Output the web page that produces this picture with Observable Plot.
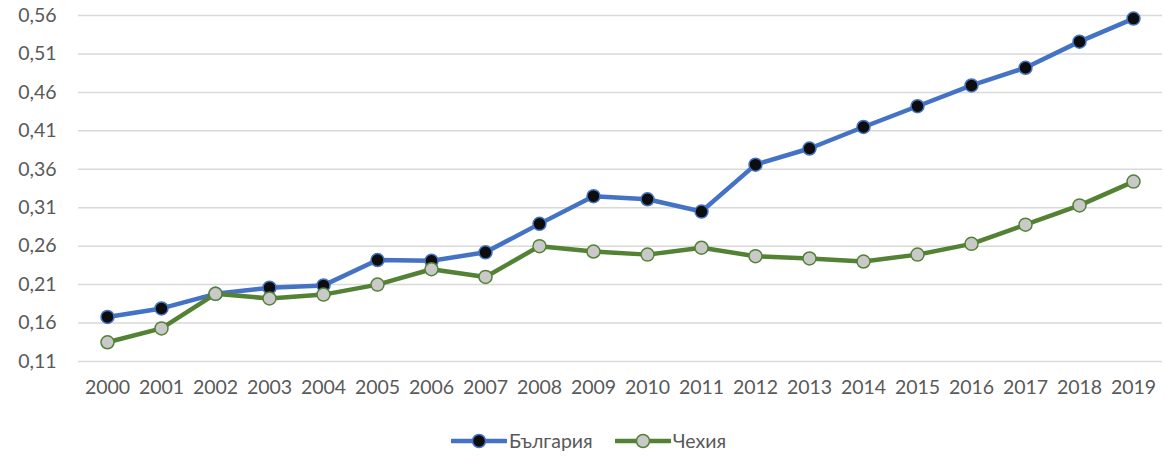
<!DOCTYPE html>
<html>
<head>
<meta charset="utf-8">
<script src="https://cdn.jsdelivr.net/npm/d3@7"></script>
<script src="https://cdn.jsdelivr.net/npm/@observablehq/plot@0.6"></script>
<style>
  html, body { margin: 0; padding: 0; background: #fff; }
  #chart { width: 1165px; font-family: Lato, "Open Sans", sans-serif; }
  .legend { display: flex; justify-content: center; align-items: center; gap: 22px; font-size: 19.5px; color: #595959; margin-top: 24px; padding-left: 12px; }
  .legend span.item { display: flex; align-items: center; gap: 2px; }
</style>
</head>
<body>
<div id="chart"></div>
<script>
const years = ["2000","2001","2002","2003","2004","2005","2006","2007","2008","2009","2010","2011","2012","2013","2014","2015","2016","2017","2018","2019"];
const bulgaria = [0.168,0.179,0.198,0.206,0.209,0.242,0.241,0.252,0.289,0.325,0.321,0.305,0.366,0.387,0.415,0.442,0.469,0.492,0.526,0.556];
const czechia = [0.135,0.153,0.198,0.192,0.197,0.210,0.230,0.220,0.260,0.253,0.249,0.258,0.247,0.244,0.240,0.249,0.263,0.288,0.313,0.344];
const yTicks = [0.11,0.16,0.21,0.26,0.31,0.36,0.41,0.46,0.51,0.56];
const seriesNames = ["България", "Чехия"];
const lineColors = ["#4472C4", "#548235"];
const dotFills = ["#0d0d0d", "#c9c9c9"];

const rows = [];
years.forEach((y, i) => {
  rows.push({year: y, value: bulgaria[i], series: seriesNames[0]});
  rows.push({year: y, value: czechia[i], series: seriesNames[1]});
});

const fmt = d => d.toFixed(2).replace(".", ",");

const plot = Plot.plot({
  width: 1165,
  height: 405,
  marginTop: 15,
  marginBottom: 44,
  marginLeft: 78,
  marginRight: 3,
  style: {fontFamily: "Lato, 'Open Sans', sans-serif", fontSize: "19.5px", color: "#595959", background: "#fff"},
  x: {type: "point", domain: years, padding: 0.5, label: null},
  y: {domain: [0.11, 0.56], label: null},
  color: {domain: seriesNames, range: lineColors},
  marks: [
    Plot.gridY(yTicks, {stroke: "#d9d9d9", strokeOpacity: 1, strokeWidth: 1.5}),
    Plot.axisY(yTicks, {tickSize: 0, tickPadding: 22, tickFormat: fmt, fill: "#595959", fontSize: 19.5, label: null}),
    Plot.axisX(years, {tickSize: 0, tickPadding: 19, fill: "#595959", fontSize: 19.5, label: null}),
    Plot.line(rows, {x: "year", y: "value", z: "series", stroke: "series", strokeWidth: 4.5}),
    Plot.dot(rows, {x: "year", y: "value", r: 6.5, stroke: "series", strokeWidth: 1.5,
      fill: d => d.series === seriesNames[0] ? dotFills[0] : dotFills[1]})
  ]
});
document.getElementById("chart").appendChild(plot);

const legend = document.createElement("div");
legend.className = "legend";
seriesNames.forEach((name, i) => {
  const item = document.createElement("span");
  item.className = "item";
  item.innerHTML = `<svg width="56" height="16"><line x1="1" y1="8" x2="55" y2="8" stroke="${lineColors[i]}" stroke-width="4.5" stroke-linecap="round"/><circle cx="28" cy="8" r="6.5" fill="${dotFills[i]}" stroke="${lineColors[i]}" stroke-width="1.5"/></svg><span>${name}</span>`;
  legend.appendChild(item);
});
document.getElementById("chart").appendChild(legend);
</script>
</body>
</html>
